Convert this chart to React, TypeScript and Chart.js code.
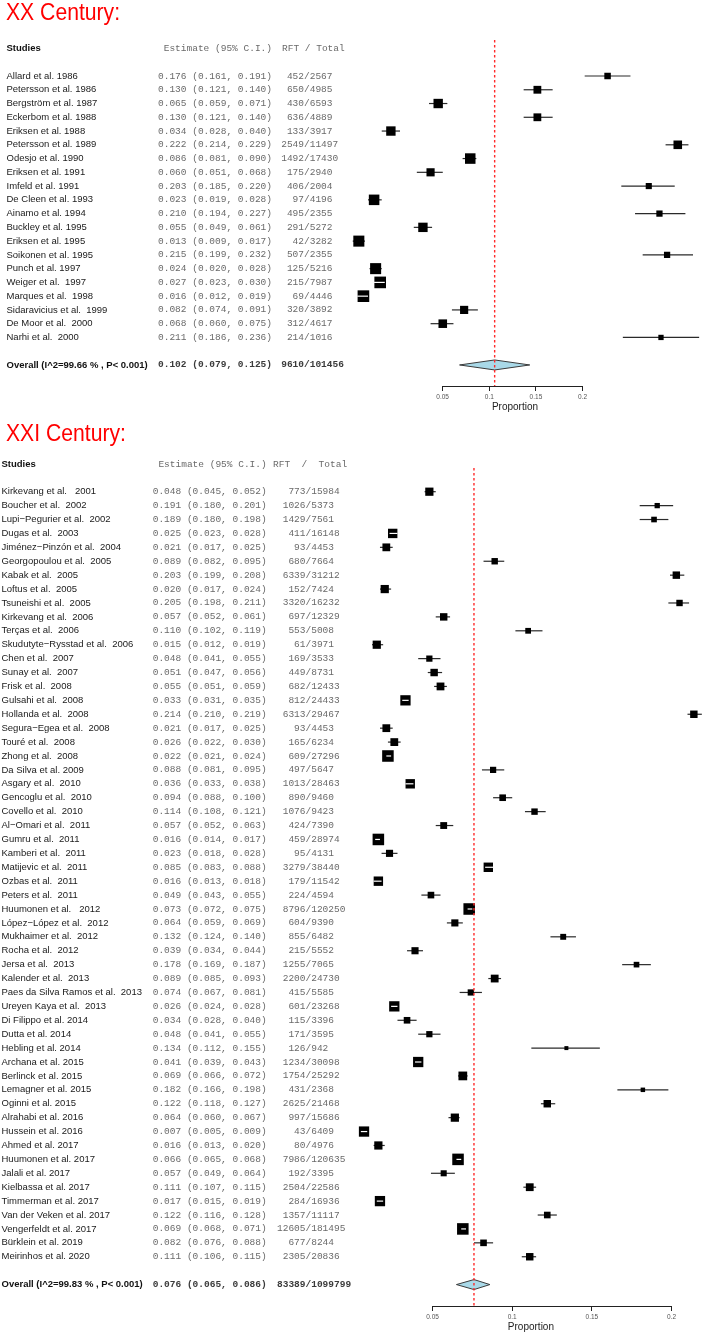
import React, { useEffect, useRef } from 'react';
import { Chart, registerables } from 'chart.js';

Chart.register(...registerables);

// ---------- XX century data ----------
const xxNames = [
  'Allard et al. 1986', 'Petersson et al. 1986', 'Bergström et al. 1987', 'Eckerbom et al. 1988',
  'Eriksen et al. 1988', 'Petersson et al. 1989', 'Odesjo et al. 1990', 'Eriksen et al. 1991',
  'Imfeld et al. 1991', 'De Cleen et al. 1993', 'Ainamo et al. 1994', 'Buckley et al. 1995',
  'Eriksen et al. 1995', 'Soikonen et al. 1995', 'Punch et al. 1997', 'Weiger et al.  1997',
  'Marques et al.  1998', 'Sidaravicius et al.  1999', 'De Moor et al.  2000', 'Narhi et al.  2000',
];
const xxEst = [0.176, 0.130, 0.065, 0.130, 0.034, 0.222, 0.086, 0.060, 0.203, 0.023, 0.210, 0.055, 0.013, 0.215, 0.024, 0.027, 0.016, 0.082, 0.068, 0.211];
const xxLow = [0.161, 0.121, 0.059, 0.121, 0.028, 0.214, 0.081, 0.051, 0.185, 0.019, 0.194, 0.049, 0.009, 0.199, 0.020, 0.023, 0.012, 0.074, 0.060, 0.186];
const xxHigh = [0.191, 0.140, 0.071, 0.140, 0.040, 0.229, 0.090, 0.068, 0.220, 0.028, 0.227, 0.061, 0.017, 0.232, 0.028, 0.030, 0.019, 0.091, 0.075, 0.236];
const xxEvents = [452, 650, 430, 636, 133, 2549, 1492, 175, 406, 97, 495, 291, 42, 507, 125, 215, 69, 320, 312, 214];
const xxTotals = [2567, 4985, 6593, 4889, 3917, 11497, 17430, 2940, 2004, 4196, 2355, 5272, 3282, 2355, 5216, 7987, 4446, 3892, 4617, 1016];
const xxOverallLabel = 'Overall (I^2=99.66 % , P< 0.001)';
const xxOverallCI = [0.102, 0.079, 0.125];
const xxOverallCounts = [9610, 101456];

// ---------- XXI century data ----------
const xxiNames = [
  'Kirkevang et al.   2001', 'Boucher et al.  2002', 'Lupi−Pegurier et al.  2002', 'Dugas et al.  2003',
  'Jiménez−Pinzón et al.  2004', 'Georgopoulou et al.  2005', 'Kabak et al.  2005', 'Loftus et al.  2005',
  'Tsuneishi et al.  2005', 'Kirkevang et al.  2006', 'Terças et al.  2006', 'Skudutyte−Rysstad et al.  2006',
  'Chen et al.  2007', 'Sunay et al.  2007', 'Frisk et al.  2008', 'Gulsahi et al.  2008',
  'Hollanda et al.  2008', 'Segura−Egea et al.  2008', 'Touré et al.  2008', 'Zhong et al.  2008',
  'Da Silva et al. 2009', 'Asgary et al.  2010', 'Gencoglu et al.  2010', 'Covello et al.  2010',
  'Al−Omari et al.  2011', 'Gumru et al.  2011', 'Kamberi et al.  2011', 'Matijevic et al.  2011',
  'Ozbas et al.  2011', 'Peters et al.  2011', 'Huumonen et al.   2012', 'López−López et al.  2012',
  'Mukhaimer et al.  2012', 'Rocha et al.  2012', 'Jersa et al.  2013', 'Kalender et al.  2013',
  'Paes da Silva Ramos et al.  2013', 'Ureyen Kaya et al.  2013', 'Di Filippo et al. 2014', 'Dutta et al. 2014',
  'Hebling et al. 2014', 'Archana et al. 2015', 'Berlinck et al. 2015', 'Lemagner et al. 2015',
  'Oginni et al. 2015', 'Alrahabi et al. 2016', 'Hussein et al. 2016', 'Ahmed et al. 2017',
  'Huumonen et al. 2017', 'Jalali et al. 2017', 'Kielbassa et al. 2017', 'Timmerman et al. 2017',
  'Van der Veken et al. 2017', 'Vengerfeldt et al. 2017', 'Bürklein et al. 2019', 'Meirinhos et al. 2020',
];
const xxiEst = [
  0.048, 0.191, 0.189, 0.025, 0.021, 0.089, 0.203, 0.020, 0.205, 0.057, 0.110, 0.015, 0.048, 0.051,
  0.055, 0.033, 0.214, 0.021, 0.026, 0.022, 0.088, 0.036, 0.094, 0.114, 0.057, 0.016, 0.023, 0.085,
  0.016, 0.049, 0.073, 0.064, 0.132, 0.039, 0.178, 0.089, 0.074, 0.026, 0.034, 0.048, 0.134, 0.041,
  0.069, 0.182, 0.122, 0.064, 0.007, 0.016, 0.066, 0.057, 0.111, 0.017, 0.122, 0.069, 0.082, 0.111,
];
const xxiLow = [
  0.045, 0.180, 0.180, 0.023, 0.017, 0.082, 0.199, 0.017, 0.198, 0.052, 0.102, 0.012, 0.041, 0.047,
  0.051, 0.031, 0.210, 0.017, 0.022, 0.021, 0.081, 0.033, 0.088, 0.108, 0.052, 0.014, 0.018, 0.083,
  0.013, 0.043, 0.072, 0.059, 0.124, 0.034, 0.169, 0.085, 0.067, 0.024, 0.028, 0.041, 0.112, 0.039,
  0.066, 0.166, 0.118, 0.060, 0.005, 0.013, 0.065, 0.049, 0.107, 0.015, 0.116, 0.068, 0.076, 0.106,
];
const xxiHigh = [
  0.052, 0.201, 0.198, 0.028, 0.025, 0.095, 0.208, 0.024, 0.211, 0.061, 0.119, 0.019, 0.055, 0.056,
  0.059, 0.035, 0.219, 0.025, 0.030, 0.024, 0.095, 0.038, 0.100, 0.121, 0.063, 0.017, 0.028, 0.088,
  0.018, 0.055, 0.075, 0.069, 0.140, 0.044, 0.187, 0.093, 0.081, 0.028, 0.040, 0.055, 0.155, 0.043,
  0.072, 0.198, 0.127, 0.067, 0.009, 0.020, 0.068, 0.064, 0.115, 0.019, 0.128, 0.071, 0.088, 0.115,
];
const xxiEvents = [
  773, 1026, 1429, 411, 93, 680, 6339, 152, 3320, 697, 553, 61, 169, 449,
  682, 812, 6313, 93, 165, 609, 497, 1013, 890, 1076, 424, 459, 95, 3279,
  179, 224, 8796, 604, 855, 215, 1255, 2200, 415, 601, 115, 171, 126, 1234,
  1754, 431, 2625, 997, 43, 80, 7986, 192, 2504, 284, 1357, 12605, 677, 2305,
];
const xxiTotals = [
  15984, 5373, 7561, 16148, 4453, 7664, 31212, 7424, 16232, 12329, 5008, 3971, 3533, 8731,
  12433, 24433, 29467, 4453, 6234, 27296, 5647, 28463, 9460, 9423, 7390, 28974, 4131, 38440,
  11542, 4594, 120250, 9390, 6482, 5552, 7065, 24730, 5585, 23268, 3396, 3595, 942, 30098,
  25292, 2368, 21468, 15686, 6409, 4976, 120635, 3395, 22586, 16936, 11117, 181495, 8244, 20836,
];
const xxiOverallLabel = 'Overall (I^2=99.83 % , P< 0.001)';
const xxiOverallCI = [0.076, 0.065, 0.086];
const xxiOverallCounts = [83389, 1099799];

// ---------- axis ----------
const axisTicks = [0.05, 0.1, 0.15, 0.2];
const axisTickLabels = ['0.05', '0.1', '0.15', '0.2'];
const axisTitle = 'Proportion';

const SANS = '"Liberation Sans", Arial, Helvetica, sans-serif';
const MONO = '"Liberation Mono", "Courier New", monospace';

type Layout = {
  top: number; height: number; rowTop: number; rowStep: number; headerY: number;
  chartTop: number; axisY: number; chartLeft: number; chartRight: number;
  zeroPx: number; pxPerUnit: number; tickZeroPx: number; tickPxPerUnit: number;
  boxScale: number; boxExp: number; nameX: number; estX: number; slashX: number;
  rftHeaderX: number; rftHeader: string; overallRow: number;
};

const xxLayout: Layout = {
  top: 0, height: 413, rowTop: 76, rowStep: 13.76, headerY: 48,
  chartTop: 40, axisY: 386, chartLeft: 345, chartRight: 685,
  zeroPx: 339, pxPerUnit: 1526, tickZeroPx: 396, tickPxPerUnit: 933,
  boxScale: 1.6, boxExp: 0.4, nameX: 6.5, estX: 158, slashX: 304,
  rftHeaderX: 282, rftHeader: 'RFT / Total', overallRow: 21,
};

const xxiLayout: Layout = {
  top: 413, height: 920, rowTop: 78.7, rowStep: 13.91, headerY: 51,
  chartTop: 55, axisY: 893, chartLeft: 361, chartRight: 708,
  zeroPx: 352.7, pxPerUnit: 1627, tickZeroPx: 352.7, tickPxPerUnit: 1627,
  boxScale: 1.13, boxExp: 0.4, nameX: 1.5, estX: 152.7, slashX: 305.5,
  rftHeaderX: 273, rftHeader: 'RFT  /  Total', overallRow: 57,
};

type PanelProps = {
  names: string[]; est: number[]; low: number[]; high: number[];
  events: number[]; totals: number[];
  overallLabel: string; overallCI: number[]; overallCounts: number[];
  layout: Layout;
};

const f3 = (v: number) => v.toFixed(3);

function ForestPanel(p: PanelProps) {
  const ref = useRef<HTMLCanvasElement | null>(null);
  const L = p.layout;

  useEffect(() => {
    const canvas = ref.current;
    if (!canvas) return;
    const yMin = (L.chartTop - L.rowTop) / L.rowStep;
    const yMax = (L.axisY - L.rowTop) / L.rowStep;
    const xMin = (L.chartLeft - L.zeroPx) / L.pxPerUnit;
    const xMax = (L.chartRight - L.zeroPx) / L.pxPerUnit;
    const tMin = (L.chartLeft - L.tickZeroPx) / L.tickPxPerUnit;
    const tMax = (L.chartRight - L.tickZeroPx) / L.tickPxPerUnit;

    const widths = p.low.map((l, i) => p.high[i] - l);
    const boxSide = widths.map((w) => L.boxScale * Math.pow(w, -L.boxExp));
    const inside = widths.map((w, i) => w * L.pxPerUnit <= boxSide[i]);

    const datasets: any[] = [];
    const [ov, ovLo, ovHi] = p.overallCI;

    datasets.push({
      type: 'line', data: [{ x: ov, y: yMin }, { x: ov, y: yMax }],
      borderColor: '#ff2a2a', borderWidth: 1.4, borderDash: [2.5, 2.5],
      pointRadius: 0, fill: false, order: 0, clip: false,
    });
    p.est.forEach((_, i) => {
      datasets.push({
        type: 'line', data: [{ x: p.low[i], y: i }, { x: p.high[i], y: i }],
        borderColor: inside[i] ? '#ffffff' : '#2a2a2a', borderWidth: 1.2,
        pointRadius: 0, fill: false, order: inside[i] ? 1 : 3, clip: false,
      });
    });
    datasets.push({
      type: 'scatter', data: p.est.map((e, i) => ({ x: e, y: i })),
      pointStyle: 'rect', pointRadius: boxSide.map((s) => s / Math.SQRT2),
      pointBackgroundColor: '#000', pointBorderWidth: 0, pointBorderColor: '#000',
      showLine: false, order: 2, clip: false,
    });
    const r = L.overallRow;
    const h = 5 / L.rowStep;
    datasets.push({
      type: 'line',
      data: [{ x: ovLo, y: r }, { x: ov, y: r - h }, { x: ovHi, y: r }, { x: ov, y: r + h }, { x: ovLo, y: r }],
      borderColor: '#3a3a3a', borderWidth: 1, backgroundColor: '#a9d9e8',
      fill: 'shape', pointRadius: 0, tension: 0, order: 4, clip: false,
    });

    const textPlugin = {
      id: 'forestText',
      afterDraw(chart: any) {
        const ctx = chart.ctx as CanvasRenderingContext2D;
        const ys = chart.scales.y;
        const xt = chart.scales.xt;
        ctx.save();
        ctx.textBaseline = 'middle';
        // header
        ctx.fillStyle = '#111';
        ctx.textAlign = 'left';
        ctx.font = `bold 9.5px ${SANS}`;
        ctx.fillText('Studies', L.nameX, L.headerY);
        ctx.font = `9.5px ${MONO}`;
        ctx.fillStyle = '#6a6a6a';
        ctx.textAlign = 'right';
        ctx.fillText('Estimate (95% C.I.)', L.estX + 114, L.headerY);
        ctx.textAlign = 'left';
        ctx.fillText(L.rftHeader, L.rftHeaderX, L.headerY);
        // rows
        p.names.forEach((name, i) => {
          const y = ys.getPixelForValue(i);
          ctx.font = `9.5px ${SANS}`;
          ctx.fillStyle = '#1a1a1a';
          ctx.textAlign = 'left';
          ctx.fillText(name, L.nameX, y);
          ctx.font = `9.5px ${MONO}`;
          ctx.fillStyle = '#6a6a6a';
          ctx.fillText(`${f3(p.est[i])} (${f3(p.low[i])}, ${f3(p.high[i])})`, L.estX, y);
          ctx.textAlign = 'right';
          ctx.fillText(String(p.events[i]), L.slashX, y);
          ctx.textAlign = 'left';
          ctx.fillText('/' + String(p.totals[i]), L.slashX, y);
        });
        // overall
        const yo = ys.getPixelForValue(L.overallRow);
        ctx.font = `bold 9.5px ${SANS}`;
        ctx.fillStyle = '#111';
        ctx.textAlign = 'left';
        ctx.fillText(p.overallLabel, L.nameX, yo);
        ctx.font = `bold 9.5px ${MONO}`;
        ctx.fillStyle = '#3a3a3a';
        ctx.fillText(`${f3(ov)} (${f3(ovLo)}, ${f3(ovHi)})`, L.estX, yo);
        ctx.textAlign = 'right';
        ctx.fillText(String(p.overallCounts[0]), L.slashX, yo);
        ctx.textAlign = 'left';
        ctx.fillText('/' + String(p.overallCounts[1]), L.slashX, yo);
        // axis line between first and last tick
        const ay = Math.round(xt.top) + 0.5;
        ctx.strokeStyle = '#222';
        ctx.lineWidth = 1;
        ctx.beginPath();
        ctx.moveTo(xt.getPixelForValue(axisTicks[0]), ay);
        ctx.lineTo(xt.getPixelForValue(axisTicks[axisTicks.length - 1]), ay);
        ctx.stroke();
        ctx.restore();
      },
    };

    const chart = new Chart(canvas, {
      type: 'scatter',
      data: { datasets },
      options: {
        animation: false,
        responsive: false,
        maintainAspectRatio: false,
        devicePixelRatio: 1,
        events: [],
        layout: { padding: { left: L.chartLeft, right: 709 - L.chartRight, top: L.chartTop, bottom: 0 } },
        plugins: { legend: { display: false }, tooltip: { enabled: false }, title: { display: false } },
        scales: {
          x: { type: 'linear', display: false, min: xMin, max: xMax, bounds: 'data' },
          xt: {
            type: 'linear', axis: 'x', position: 'bottom', min: tMin, max: tMax, bounds: 'data',
            afterBuildTicks: (s: any) => { s.ticks = axisTicks.map((v) => ({ value: v })); },
            afterFit: (s: any) => { s.height = L.height - L.axisY; },
            grid: { display: true, drawOnChartArea: false, drawTicks: true, tickLength: 5, color: '#222', lineWidth: 1 },
            border: { display: false },
            ticks: {
              callback: (v: any) => axisTickLabels[axisTicks.indexOf(Number(v))] ?? '',
              font: { family: SANS, size: 6.5 }, color: '#555', padding: 2,
              maxRotation: 0, autoSkip: false,
            },
            title: {
              display: true, text: axisTitle, font: { family: SANS, size: 10 }, color: '#222',
              padding: { top: 0, bottom: 0 },
            },
          },
          y: { type: 'linear', display: false, reverse: true, min: yMin, max: yMax, bounds: 'data' },
        },
      } as any,
      plugins: [textPlugin],
    });
    return () => chart.destroy();
  }, []);

  return (
    <canvas
      ref={ref}
      width={709}
      height={L.height}
      style={{ position: 'absolute', left: 0, top: L.top, display: 'block' }}
    />
  );
}

const titleStyle = (top: number): React.CSSProperties => ({
  position: 'absolute', left: 6, top, margin: 0, color: '#ff0000',
  fontFamily: SANS, fontSize: 23, lineHeight: '23px', fontWeight: 'normal',
  transform: 'scaleX(0.92)', transformOrigin: 'left top', whiteSpace: 'nowrap', zIndex: 2,
});

export default function App() {
  return (
    <div style={{ position: 'absolute', left: 0, top: 0, width: 709, height: 1333, background: '#fff', overflow: 'hidden' }}>
      <ForestPanel
        names={xxNames} est={xxEst} low={xxLow} high={xxHigh}
        events={xxEvents} totals={xxTotals}
        overallLabel={xxOverallLabel} overallCI={xxOverallCI} overallCounts={xxOverallCounts}
        layout={xxLayout}
      />
      <ForestPanel
        names={xxiNames} est={xxiEst} low={xxiLow} high={xxiHigh}
        events={xxiEvents} totals={xxiTotals}
        overallLabel={xxiOverallLabel} overallCI={xxiOverallCI} overallCounts={xxiOverallCounts}
        layout={xxiLayout}
      />
      <div style={titleStyle(1)}>XX Century:</div>
      <div style={titleStyle(422)}>XXI Century:</div>
    </div>
  );
}
